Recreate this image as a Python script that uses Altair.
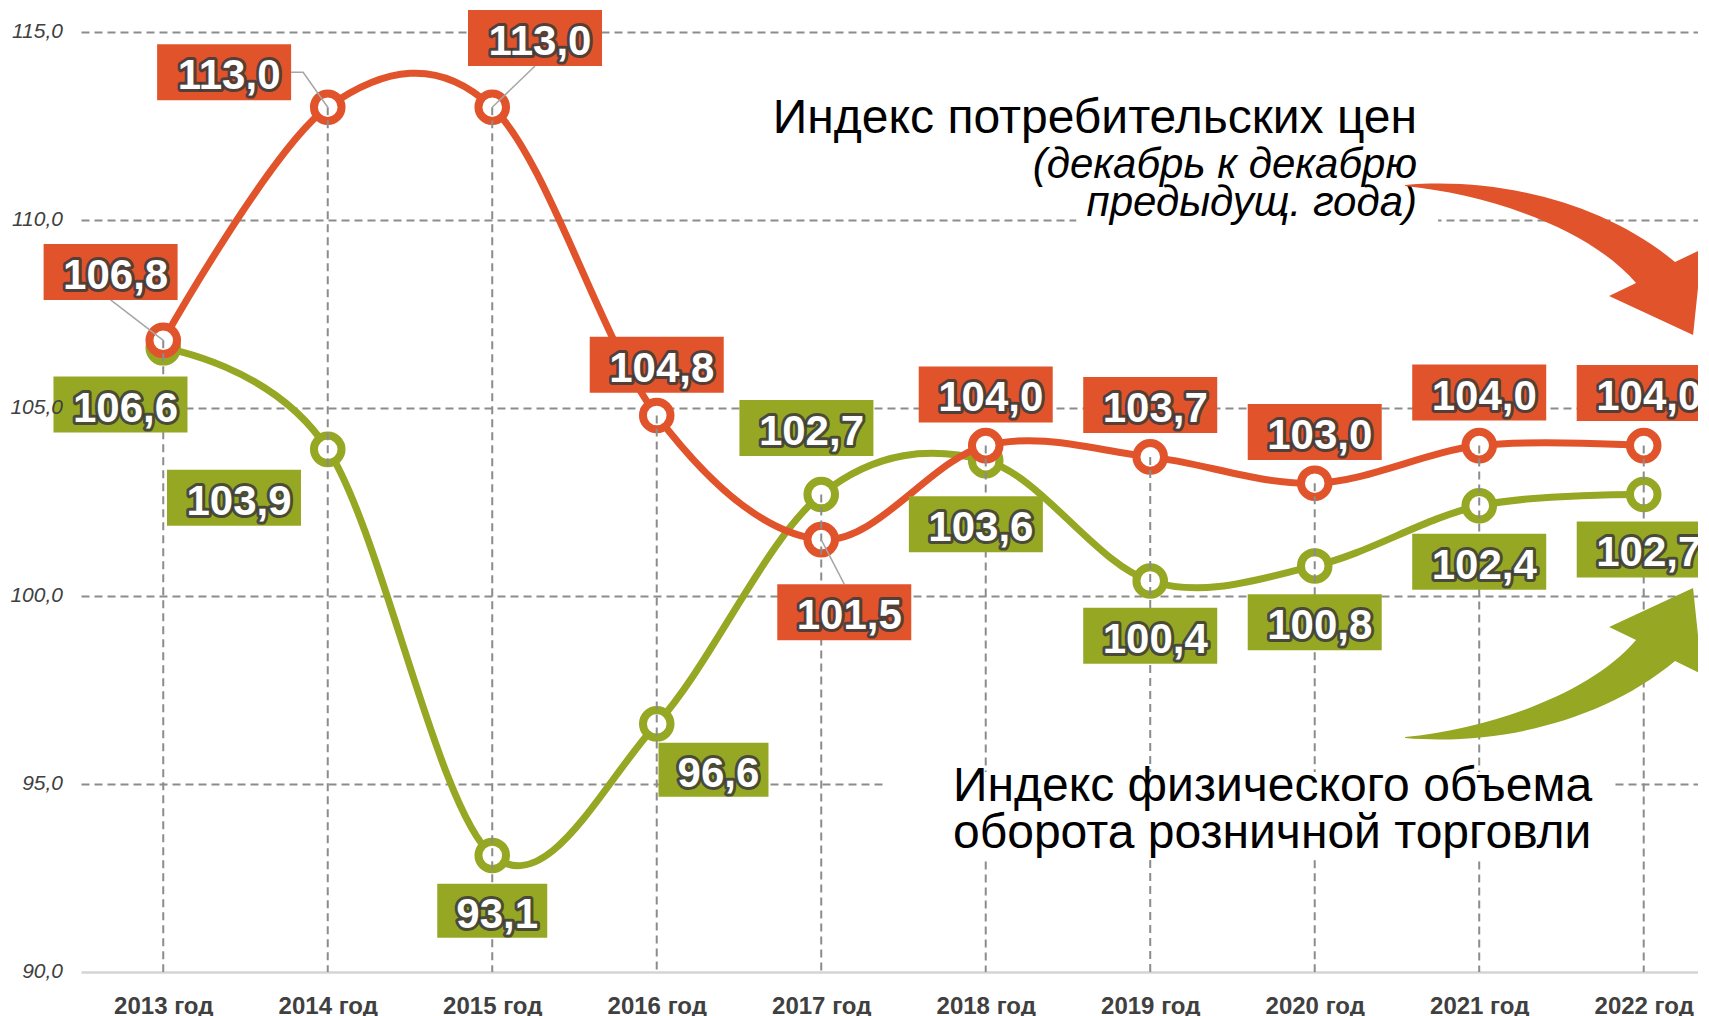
import altair as alt
import pandas as pd

# ---------------- data ----------------
years = [2013, 2014, 2015, 2016, 2017, 2018, 2019, 2020, 2021, 2022]
cpi = [106.8, 113.0, 113.0, 104.8, 101.5, 104.0, 103.7, 103.0, 104.0, 104.0]
retail = [106.6, 103.9, 93.1, 96.6, 102.7, 103.6, 100.4, 100.8, 102.4, 102.7]
y_ticks = [90, 95, 100, 105, 110, 115]

cpi_title = "Индекс потребительских цен"
cpi_note = ["(декабрь к декабрю", "предыдущ. года)"]
retail_title = ["Индекс физического объема", "оборота розничной торговли"]

# ---------------- layout (label offsets in axis units) ----------------
cpi_lab_dx = [-0.32, -0.63, 0.26, 0.0, 0.14, 0.0, 0.0, 0.0, 0.0, 0.0]
cpi_lab_dy = [1.82, 0.93, 1.84, 1.35, -1.93, 1.36, 1.38, 1.36, 1.41, 1.40]
ret_lab_dx = [-0.26, -0.57, 0.0, 0.345, -0.09, -0.06, 0.0, 0.0, 0.0, 0.0]
ret_lab_dy = [-1.51, -1.29, -1.47, -1.22, 1.77, -1.69, -1.46, -1.50, -1.49, -1.46]
leaders = [(2013, "bottom"), (2014, "right"), (2015, "bottom"), (2017, "top")]

X_DOMAIN = [2012.5, 2022.33]
Y_DOMAIN = [90, 115]
PX_PER_YEAR = 1617 / (X_DOMAIN[1] - X_DOMAIN[0])
PX_PER_UNIT = 940 / (Y_DOMAIN[1] - Y_DOMAIN[0])

ORANGE = "#E1532A"
GREEN = "#96A724"
GRID = "#8c8c8c"
FONT = "Liberation Sans"

BOX5 = "M-67,-28H67V28H-67Z"
BOX4 = "M-55,-27H55V27H-55Z"
ARROW_DOWN = "M-288,-150C-195,-158 -90,-133 -18,-73L9,-86L0,0L-84,-39L-57,-52C-105,-108 -207,-141 -288,-149Z"
ARROW_UP = "M-288,150C-195,158 -90,133 -18,73L9,86L0,0L-84,39L-57,52C-105,108 -207,141 -288,149Z"


def fmt(v):
    return f"{v:.1f}".replace(".", ",")


x_axis = alt.Axis(values=years, labelExpr="datum.value + ' год'", grid=False, ticks=False,
                  domainColor="#d4d4d4", domainWidth=2.5, labelFont=FONT, labelFontWeight="bold",
                  labelFontSize=24, labelColor="#404040", labelPadding=41,
                  labelBaseline="alphabetic", labelFlush=False, labelOverlap=False, title=None)
y_axis = alt.Axis(values=y_ticks, labels=False,
                  domain=False, ticks=False, grid=True, gridColor=GRID, gridDash=[8, 5], gridWidth=2,
                  gridOpacity={"condition": {"test": "datum.value === 90", "value": 0}, "value": 1},
                  title=None)

X = alt.X("x:Q", scale=alt.Scale(domain=X_DOMAIN, nice=False, zero=False), axis=x_axis)
Y = alt.Y("y:Q", scale=alt.Scale(domain=Y_DOMAIN, nice=False, zero=False), axis=y_axis)

cpi_df = pd.DataFrame({"x": years, "y": cpi})
ret_df = pd.DataFrame({"x": years, "y": retail})


def line_layer(df, color):
    return alt.Chart(df).mark_line(interpolate="cardinal", tension=0, strokeWidth=7,
                                   color=color).encode(x=X, y=Y)


def pt_layer(df, color):
    return alt.Chart(df).mark_point(shape="circle", filled=True, fill="white", stroke=color,
                                    strokeWidth=8, size=760, opacity=1).encode(x=X, y=Y)


drop_df = pd.DataFrame({"x": years, "y": [max(a, b) for a, b in zip(cpi, retail)],
                        "y2": [Y_DOMAIN[0]] * len(years)})
drop = alt.Chart(drop_df).mark_rule(color=GRID, strokeWidth=2, strokeDash=[8, 5]).encode(
    x=X, y=Y, y2="y2:Q")

bg_df = pd.DataFrame({"x": [2018.55, 2017.375], "x2": [2020.75, 2021.807],
                      "y": [111.99, 95.32], "y2": [109.79, 92.98]})
bg = alt.Chart(bg_df).mark_rect(color="white").encode(x=X, x2="x2:Q", y=Y, y2="y2:Q")

t1 = alt.Chart(pd.DataFrame({"x": [2020.622], "y": [112.314], "t": [cpi_title]})).mark_text(
    align="right", baseline="alphabetic", font=FONT, fontSize=48, color="black").encode(
    x=X, y=Y, text="t:N")
t2 = alt.Chart(pd.DataFrame({"x": [2020.622, 2020.622], "y": [111.117, 110.106], "t": cpi_note})).mark_text(
    align="right", baseline="alphabetic", font=FONT, fontSize=42, fontStyle="italic",
    color="black").encode(x=X, y=Y, text="t:N")
t3 = alt.Chart(pd.DataFrame({"x": [2017.801, 2017.801], "y": [94.548, 93.298], "t": retail_title})).mark_text(
    align="left", baseline="alphabetic", font=FONT, fontSize=48, color="black").encode(
    x=X, y=Y, text="t:N")

arrow_df = pd.DataFrame({"x": [2022.3, 2022.3], "y": [106.94, 100.21],
                         "shape": [ARROW_DOWN, ARROW_UP], "col": [ORANGE, GREEN]})
arrows = alt.Chart(arrow_df).mark_point(filled=True, size=4, opacity=1, strokeWidth=0).encode(
    x=X, y=Y, shape=alt.Shape("shape:N", scale=None), color=alt.Color("col:N", scale=None))

# labels
lab_rows = []
for vals, dxs, dys, col in [(retail, ret_lab_dx, ret_lab_dy, GREEN), (cpi, cpi_lab_dx, cpi_lab_dy, ORANGE)]:
    for yr, v, dx, dy in zip(years, vals, dxs, dys):
        t = fmt(v)
        lab_rows.append({"x": yr + dx, "y": v + dy, "t": t,
                         "shape": BOX5 if len(t) == 5 else BOX4, "col": col})
lab_df = pd.DataFrame(lab_rows)

# leader lines (CPI labels)
half_h = 28 / PX_PER_UNIT
half_w = 67 / PX_PER_YEAR
lead_rows = []
for yr, side in leaders:
    i = years.index(yr)
    px, py = yr, cpi[i]
    lx, ly = yr + cpi_lab_dx[i], cpi[i] + cpi_lab_dy[i]
    pts = [(px, py)]
    if side == "bottom":
        pts.append((lx, ly - half_h))
    elif side == "top":
        pts.append((lx, ly + half_h))
    else:
        pts.append((lx + half_w + 12 / PX_PER_YEAR, ly))
        pts.append((lx + half_w, ly))
    for k, (a, b) in enumerate(pts):
        lead_rows.append({"x": a, "y": b, "lid": str(yr), "o": k})
lead_df = pd.DataFrame(lead_rows)
leads = alt.Chart(lead_df).mark_line(color="#a6a6a6", strokeWidth=1.5).encode(
    x=X, y=Y, detail="lid:N", order="o:Q")

boxes = alt.Chart(lab_df).mark_point(filled=True, size=4, opacity=1, strokeWidth=0).encode(
    x=X, y=Y, shape=alt.Shape("shape:N", scale=None), color=alt.Color("col:N", scale=None))
glow = alt.Chart(lab_df).mark_text(align="center", baseline="middle", dx=5, dy=4, font=FONT,
                                   fontSize=42, fontWeight="bold", color="#3b3b3b",
                                   stroke="#3b3b3b", strokeWidth=6, strokeJoin="round",
                                   strokeOpacity=0.85).encode(x=X, y=Y, text="t:N")
txt = alt.Chart(lab_df).mark_text(align="center", baseline="middle", dx=5, dy=4, font=FONT,
                                  fontSize=42, fontWeight="bold", color="white").encode(
    x=X, y=Y, text="t:N")

# y tick labels drawn on top of everything (as in the reference)
ytl_df = pd.DataFrame({"x": [X_DOMAIN[0]] * len(y_ticks), "y": y_ticks, "t": [fmt(v) for v in y_ticks]})
ytl = alt.Chart(ytl_df).mark_text(align="right", baseline="middle", dx=-18, font=FONT,
                                  fontSize=21, fontStyle="italic", color="#404040").encode(
    x=X, y=Y, text="t:N")

chart = alt.layer(
    line_layer(ret_df, GREEN), pt_layer(ret_df, GREEN),
    line_layer(cpi_df, ORANGE), pt_layer(cpi_df, ORANGE),
    drop, bg, t1, t2, t3, arrows, leads, boxes, glow, txt, ytl,
).properties(
    width=1617, height=940,
    padding={"left": 73, "top": 24, "right": 0, "bottom": 44},
    autosize=alt.AutoSizeParams(type="none"),
    background="white",
).configure_view(stroke=None)

chart.save("out.html", embed_options={"renderer": "svg", "actions": False})
